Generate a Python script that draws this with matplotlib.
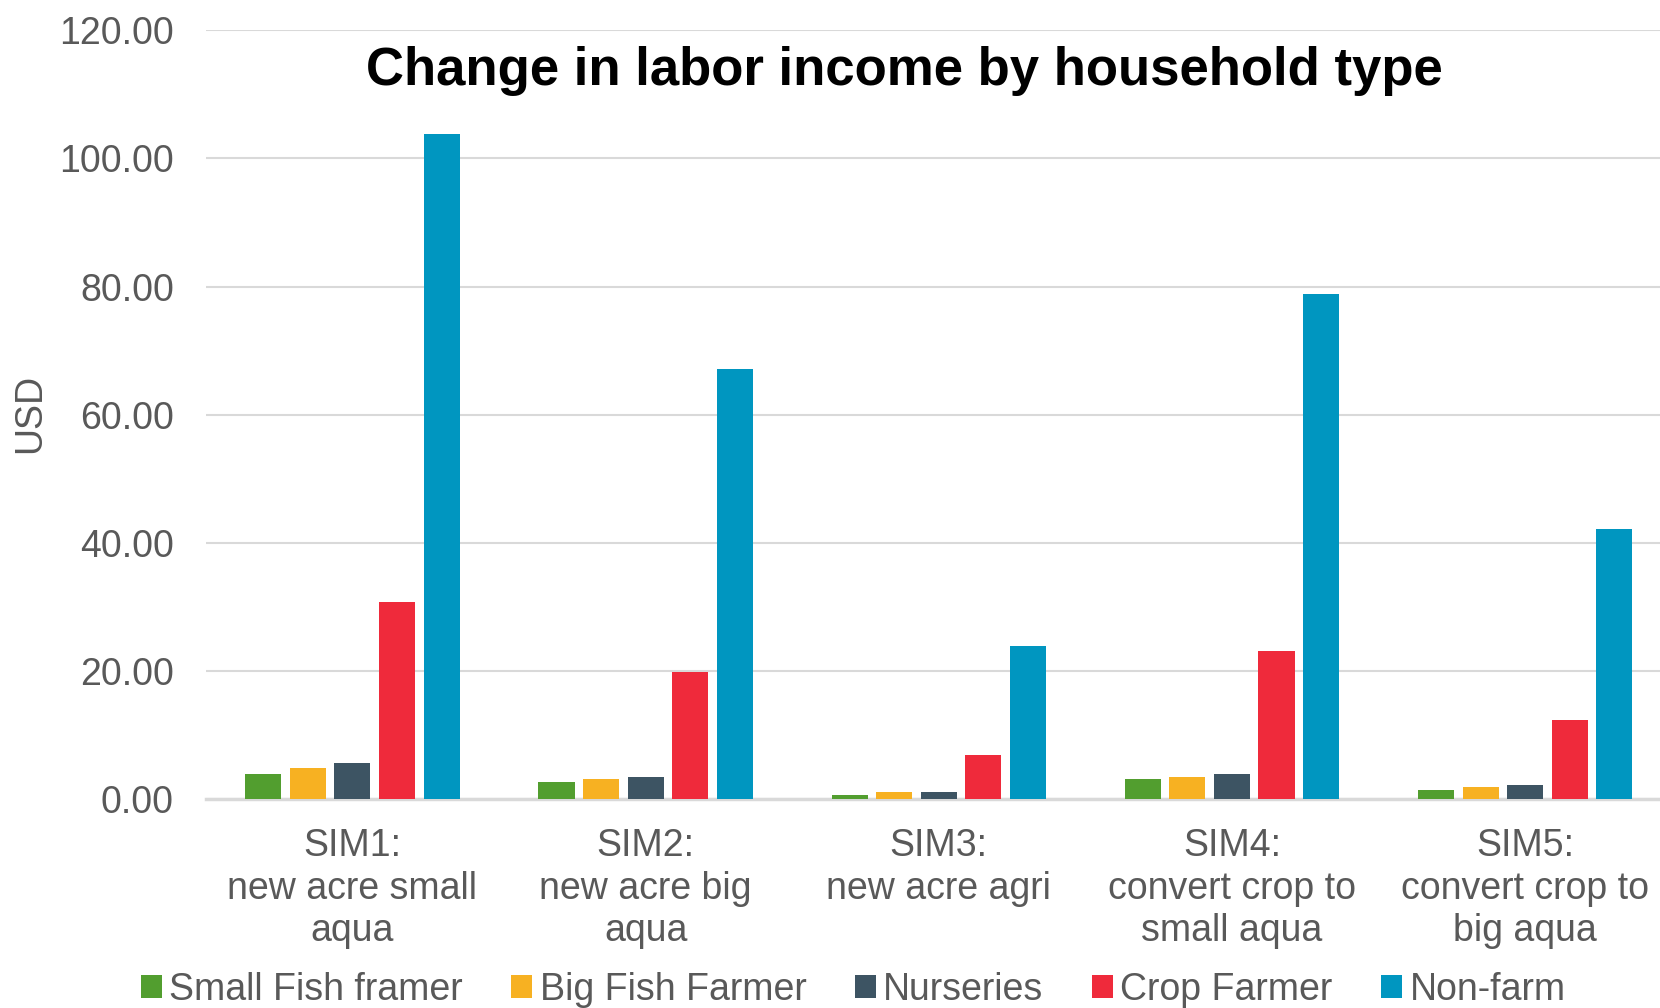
import matplotlib
matplotlib.use("Agg")
import matplotlib.pyplot as plt
import numpy as np

plt.rcParams['font.family'] = ['Liberation Sans', 'DejaVu Sans']

##############################################################################
# Data
categories = ["SIM1:\nnew acre small\naqua", "SIM2:\nnew acre big\naqua",
              "SIM3:\nnew acre agri", "SIM4:\nconvert crop to\nsmall aqua",
              "SIM5:\nconvert crop to\nbig aqua"]
series = ["Small Fish framer", "Big Fish Farmer", "Nurseries",
          "Crop Farmer", "Non-farm"]
small_fish = [3.9, 2.7, 0.6, 3.1, 1.4]
big_fish = [4.8, 3.1, 1.05, 3.5, 1.9]
nurseries = [5.6, 3.5, 1.1, 3.9, 2.2]
crop = [30.7, 19.8, 6.9, 23.1, 12.3]
non_farm = [103.8, 67.2, 23.9, 78.9, 42.2]
yticks = [0, 20, 40, 60, 80, 100, 120]

colors = ["#529e2f", "#f7b122", "#3d5463", "#ef2a3b", "#0096c0"]
values = [small_fish, big_fish, nurseries, crop, non_farm]

fig = plt.figure(figsize=(16.6, 10.08), dpi=100)
ax = fig.add_axes([0.124, 0.2073, 0.876, 0.7627])

x = np.arange(len(categories))
width = 0.123
step = 0.152
for i, (name, vals, c) in enumerate(zip(series, values, colors)):
    ax.bar(x + (i - 2) * step, vals, width, color=c, label=name, zorder=3)

ax.set_xlim(-0.5, 4.46)
ax.set_ylim(0, 120)
ax.set_yticks(yticks)
ax.set_yticklabels([f"{v:.2f}" for v in yticks])
ax.yaxis.grid(True, color="#d9d9d9", linewidth=1.5, zorder=0)
for s in ["top", "right", "left"]:
    ax.spines[s].set_visible(False)
ax.spines["bottom"].set_color("#d9d9d9")
ax.spines["bottom"].set_linewidth(2.5)
ax.tick_params(axis="y", length=0, labelsize=27, labelcolor="#595959", pad=23)
ax.tick_params(axis="x", length=0, labelsize=27, labelcolor="#595959", pad=21)
ax.set_xticks(x)
ax.set_xticklabels(categories, linespacing=1.23)

fig.text(0.018, 0.59, "USD", rotation=90, fontsize=27, color="#595959",
         va="center", ha="center")
fig.text(0.545, 0.93, "Change in labor income by household type",
         fontsize=38, fontweight="bold", ha="center", va="center")

fig.legend(loc="center", bbox_to_anchor=(0.514, 0.018), ncol=5, frameon=False,
           fontsize=27, handlelength=0.55, handleheight=0.55, handletextpad=0.2,
           columnspacing=1.3, labelcolor="#595959")

fig.savefig("out.png", dpi=100)
